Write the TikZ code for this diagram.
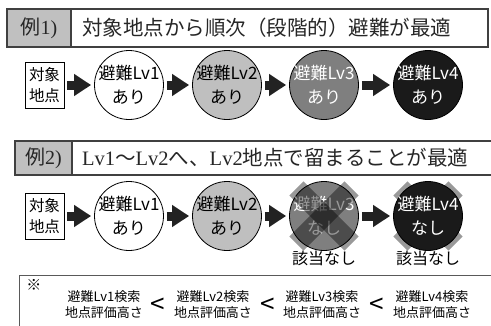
\documentclass[tikz,border=0pt]{standalone}
\usepackage{fontspec}
\setmainfont{Noto Sans CJK JP}
\newfontfamily\tms{Liberation Serif}
\usetikzlibrary{arrows.meta}
\definecolor{hgray}{HTML}{C0C0C0}
\definecolor{cA}{HTML}{FFFFFF}
\definecolor{cB}{HTML}{BFBFBF}
\definecolor{cC}{HTML}{7F7F7F}
\definecolor{cD}{HTML}{1A1A1A}
\definecolor{arr}{HTML}{222222}
\definecolor{hline}{HTML}{404040}
\begin{document}
\begin{tikzpicture}[x=1pt,y=-1pt,
  hdrbox/.style={draw=hline, line width=1.2pt},
  hdrlabel/.style={inner sep=0, font=\fontsize{20}{22}\selectfont, text=black!85},
  hdrtitle/.style={anchor=west, inner sep=0, font=\fontsize{20.5}{22}\selectfont, text=black!85},
  srcbox/.style={draw, line width=0.8pt, minimum width=39pt, minimum height=46pt, inner sep=0, align=center, font=\fontsize{15.5}{21}\selectfont},
  lv/.style={circle, draw, line width=0.8pt, minimum size=69pt, inner sep=0},
  lvtext/.style={inner sep=0, align=center, font=\fontsize{17}{24}\selectfont},
  conn/.style={draw=arr, line width=9pt, -{Triangle[length=17pt,width=21pt]}, shorten <=3pt, shorten >=3pt},
  xband/.style={rectangle, minimum width=78pt, minimum height=20pt, inner sep=0},
  nolabel/.style={inner sep=0, font=\fontsize{16}{18}\selectfont},
  cmp/.style={inner sep=0, align=center, font=\fontsize{13}{15.5}\selectfont},
  lt/.style={inner sep=0, font=\fontsize{26}{28}\selectfont}
]
\useasboundingbox (0,0) rectangle (491,325);

% ---------- header 1 ----------
\draw[hdrbox, fill=hgray] (7,9) rectangle (71,47);
\draw[hdrbox] (71,9) rectangle (488,47);
\node[hdrlabel] (h1l) at (39,28) {例{\tms 1)}};
\node[hdrtitle] (h1t) at (82,28) {対象地点から順次（段階的）避難が最適};

% ---------- row 1 ----------
\node[srcbox] (s1) at (44.5,85) {対象\\地点};
\node[lv, fill=cA] (a1) at (129,85) {};
\node[lv, fill=cB] (a2) at (227,85) {};
\node[lv, fill=cC] (a3) at (324,85) {};
\node[lv, fill=cD] (a4) at (428,85) {};
\node[lvtext] (a1t) at (a1) {避難Lv1\\あり};
\node[lvtext] (a2t) at (a2) {避難Lv2\\あり};
\node[lvtext, text=white] (a3t) at (a3) {避難Lv3\\あり};
\node[lvtext, text=white] (a4t) at (a4) {避難Lv4\\あり};
\draw[conn] (s1.east) -- (a1.west);
\draw[conn] (a1.east) -- (a2.west);
\draw[conn] (a2.east) -- (a3.west);
\draw[conn] (a3.east) -- (a4.west);

% ---------- header 2 ----------
\draw[hdrbox, fill=hgray] (15,141) rectangle (72,175);
\draw[hdrbox] (72,141) rectangle (495,175);
\node[hdrlabel] (h2l) at (43.5,158) {例{\tms 2)}};
\node[hdrtitle] (h2t) at (82,158) {{\tms Lv1}〜{\tms Lv2}へ、{\tms Lv2}地点で留まることが最適};

% ---------- row 2 ----------
\node[srcbox] (s2) at (44.5,216) {対象\\地点};
% X behind circle 4
\node[xband, fill=black!40, rotate=45] (x4a) at (428,216) {};
\node[xband, fill=black!40, rotate=-45] (x4b) at (428,216) {};
\node[lv, fill=cA] (b1) at (129,216) {};
\node[lv, fill=cB] (b2) at (227,216) {};
\node[lv, fill=cC] (b3) at (324,216) {};
\node[lv, fill=cD] (b4) at (428,216) {};
\node[lvtext] (b1t) at (b1) {避難Lv1\\あり};
\node[lvtext] (b2t) at (b2) {避難Lv2\\あり};
\node[lvtext, text=white] (b3t) at (b3) {避難Lv3\\なし};
\node[lvtext, text=white] (b4t) at (b4) {避難Lv4\\なし};
% X over circle 3
\node[xband, fill=black, fill opacity=0.4, rotate=45] (x3a) at (324,216) {};
\node[xband, fill=black, fill opacity=0.4, rotate=-45] (x3b) at (324,216) {};
\draw[conn] (s2.east) -- (b1.west);
\draw[conn] (b1.east) -- (b2.west);
\draw[conn] (b2.east) -- (b3.west);
\draw[conn] (b3.east) -- (b4.west);
\node[nolabel] (n3) at (324,258) {該当なし};
\node[nolabel] (n4) at (428,258) {該当なし};

% ---------- bottom note ----------
\draw[draw=black!65, line width=1pt] (19,275) rectangle (495,330);
\node[inner sep=0, font=\fontsize{15}{17}\selectfont] (ref) at (34,285) {※};
\node[cmp] (k1) at (104,304.5) {避難Lv1検索\\地点評価高さ};
\node[cmp] (k2) at (213,304.5) {避難Lv2検索\\地点評価高さ};
\node[cmp] (k3) at (322,304.5) {避難Lv3検索\\地点評価高さ};
\node[cmp] (k4) at (432,304.5) {避難Lv4検索\\地点評価高さ};
\node[lt] (l1) at (158,306) {<};
\node[lt] (l2) at (268,306) {<};
\node[lt] (l3) at (377,306) {<};
\end{tikzpicture}
\end{document}
